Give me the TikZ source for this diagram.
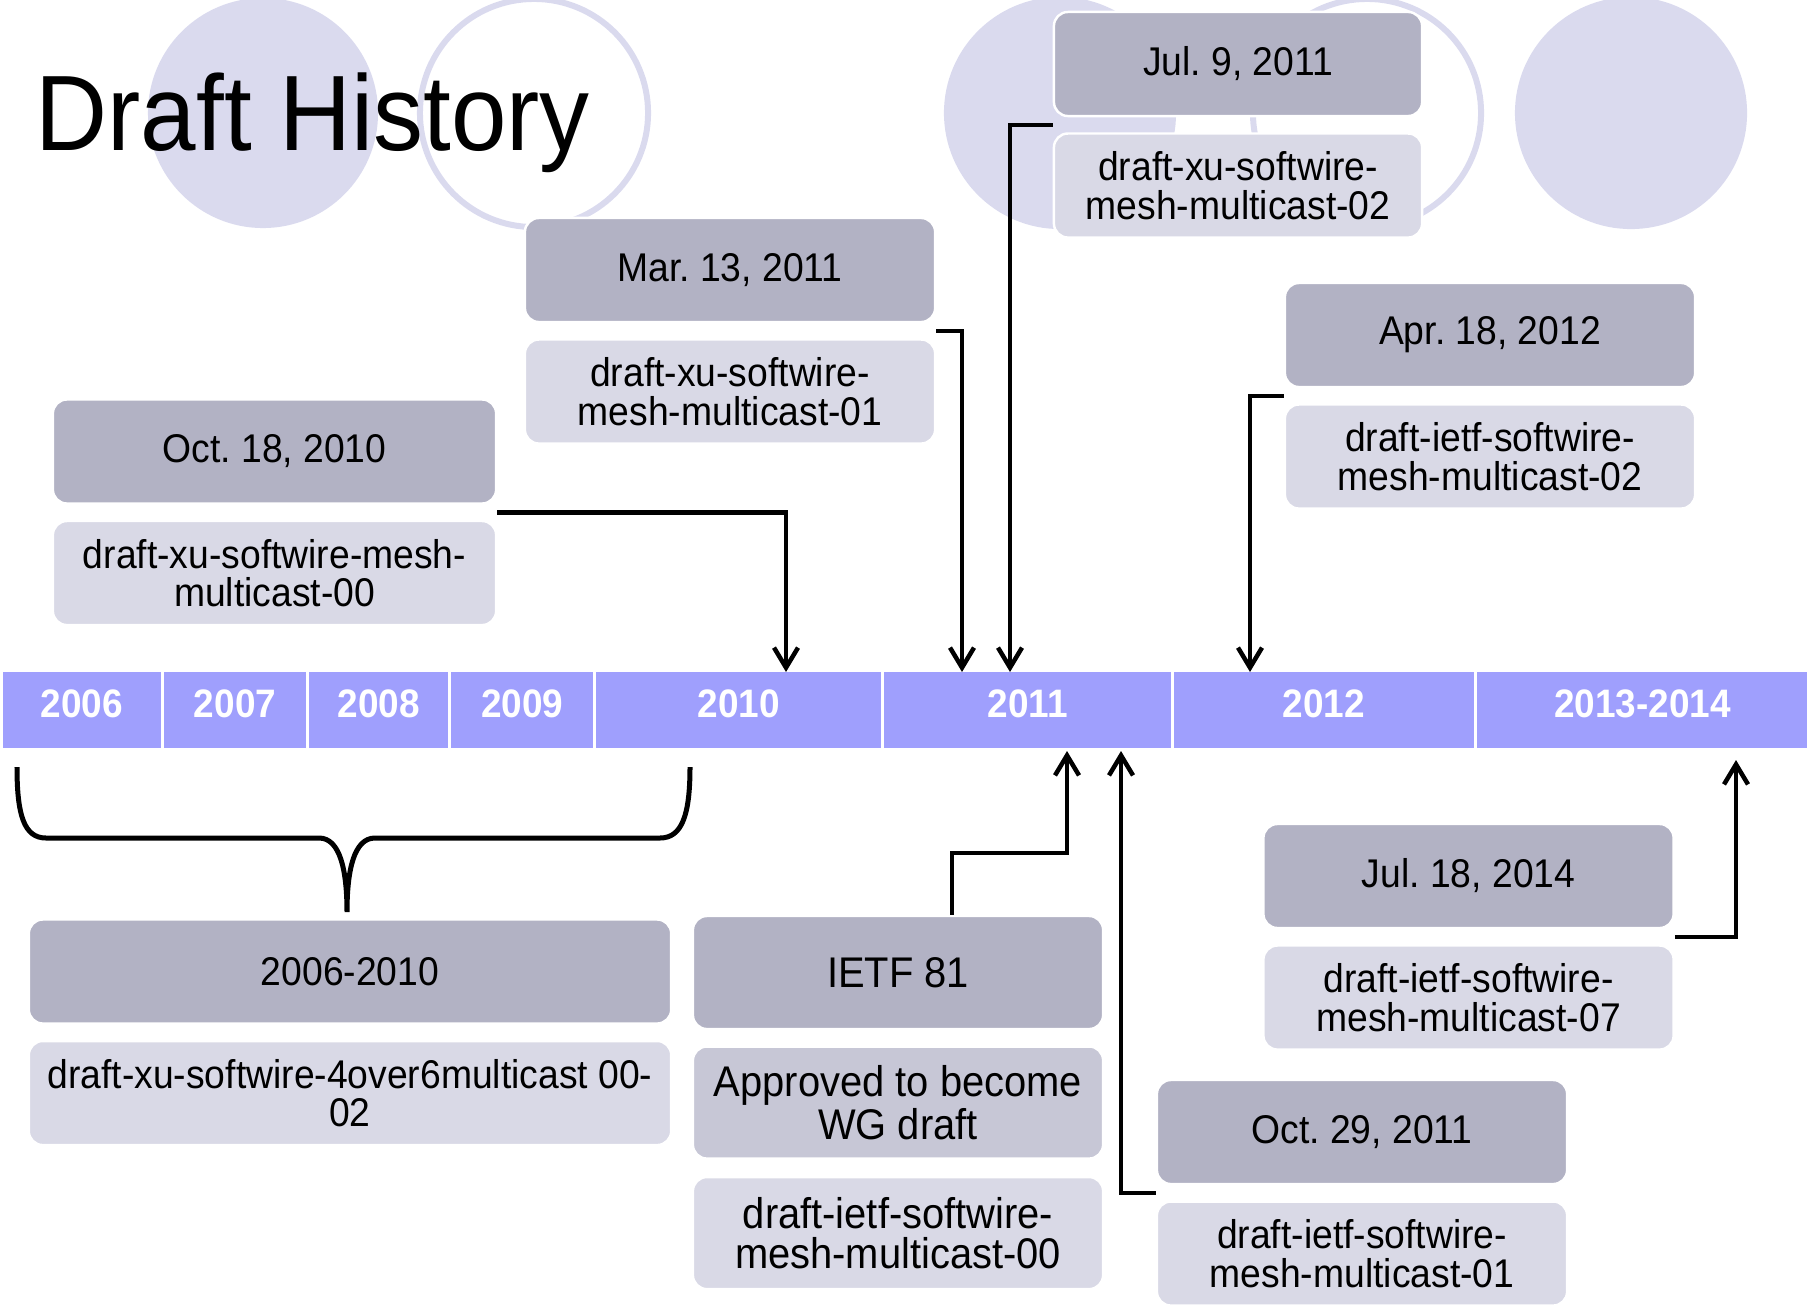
\documentclass[tikz,border=0pt]{standalone}
\usepackage{fontspec}
\setmainfont{Liberation Sans}[FakeStretch=0.93]
\usetikzlibrary{arrows.meta,positioning,calc}
\definecolor{boxdark}{HTML}{B2B2C4}
\definecolor{boxlight}{HTML}{D9D9E6}
\definecolor{boxmid}{HTML}{C7C7D6}
\definecolor{barblue}{HTML}{9F9FFD}
\definecolor{circlefill}{HTML}{DADAEE}
\newcommand{\boxfont}{\fontsize{11.4}{10.9}\selectfont}
\newcommand{\ietffont}{\fontsize{12.2}{11.2}\selectfont}
\newcommand{\yearfont}{\fontsize{11.3}{11.3}\selectfont\bfseries}
\newcommand{\titlefont}{\fontsize{30.5}{30.5}\selectfont}
\frenchspacing
\begin{document}
\begin{tikzpicture}[
			x=0.01cm,y=-0.01cm,
			datebox/.style={draw=white,line width=0.7pt,fill=boxdark,rounded corners=0.14cm,minimum width=4.1cm,minimum height=1.04cm,inner sep=2pt,align=center,font=\boxfont},
			draftbox/.style={datebox,fill=boxlight},
			yearbox/.style={fill=barblue,text=white,minimum height=0.76cm,inner sep=0pt,outer sep=0pt,text depth=0.12cm,font=\yearfont},
			ring/.style={draw=circlefill,line width=0.06cm},
			arr/.style={-{Straight Barb[length=0.2cm,width=0.24cm]},line width=0.045cm,black},
			brace/.style={line width=0.05cm,black}
			]
			\useasboundingbox (0,0) rectangle (1807,1306);
			\fill[circlefill] (263,113) circle (1.15cm);
			\draw[ring] (534,113) circle (1.14cm);
			\fill[circlefill] (1060,113) circle (1.16cm);
			\draw[ring] (1367,113) circle (1.14cm);
			\fill[circlefill] (1631,113) circle (1.16cm);
			\node[anchor=base west,font=\titlefont,inner sep=0pt] (title) at (35,150) {Draft History};
			\node[yearbox,minimum width=1.58cm] (y2006) at (82,710) {2006};
			\node[yearbox,minimum width=1.42cm] (y2007) [right=0.03cm of y2006] {2007};
			\node[yearbox,minimum width=1.39cm] (y2008) [right=0.03cm of y2007] {2008};
			\node[yearbox,minimum width=1.42cm] (y2009) [right=0.03cm of y2008] {2009};
			\node[yearbox,minimum width=2.85cm] (y2010) [right=0.03cm of y2009] {2010};
			\node[yearbox,minimum width=2.86cm] (y2011) [right=0.03cm of y2010] {2011};
			\node[yearbox,minimum width=3.00cm] (y2012) [right=0.03cm of y2011] {2012};
			\node[yearbox,minimum width=3.31cm] (y2013) [right=0.03cm of y2012] {2013-2014};
			\node[datebox,minimum width=4.43cm] (d1) at (274.5,451.5) {Oct. 18, 2010};
			\node[draftbox,minimum width=4.43cm] (r1) [below=0.15cm of d1] {draft-xu-softwire-mesh-\\multicast-00};
			\node[datebox] (d2) at (730,270) {Mar. 13, 2011};
			\node[draftbox] (r2) [below=0.15cm of d2] {draft-xu-softwire-\\mesh-multicast-01};
			\node[datebox,minimum width=3.68cm] (d3) at (1238,64) {Jul. 9, 2011};
			\node[draftbox,minimum width=3.68cm] (r3) [below=0.15cm of d3] {draft-xu-softwire-\\mesh-multicast-02};
			\node[datebox] (d4) at (1490,335) {Apr. 18, 2012};
			\node[draftbox] (r4) [below=0.15cm of d4] {draft-ietf-softwire-\\mesh-multicast-02};
			\node[datebox,minimum width=6.42cm] (d5) at (350,971.5) {2006-2010};
			\node[draftbox,minimum width=6.42cm] (r5) [below=0.15cm of d5] {draft-xu-softwire-4over6multicast 00-\\02};
			\node[datebox,minimum height=1.13cm,font=\ietffont] (d6) at (898,972.5) {IETF 81};
			\node[draftbox,fill=boxmid,minimum height=1.12cm,font=\ietffont] (a6) [below=0.15cm of d6] {Approved to become\\WG draft};
			\node[draftbox,minimum height=1.12cm,font=\ietffont] (r6) [below=0.16cm of a6] {draft-ietf-softwire-\\mesh-multicast-00};
			\node[datebox] (d7) at (1468.5,876) {Jul. 18, 2014};
			\node[draftbox] (r7) [below=0.15cm of d7] {draft-ietf-softwire-\\mesh-multicast-07};
			\node[datebox] (d8) at (1362,1132) {Oct. 29, 2011};
			\node[draftbox] (r8) [below=0.15cm of d8] {draft-ietf-softwire-\\mesh-multicast-01};
			\coordinate (p1) at (786,672);
			\coordinate (p2) at (962,672);
			\coordinate (p3) at (1010,672);
			\coordinate (p4) at (1250,672);
			\coordinate (p5) at (1067,751);
			\coordinate (p6) at (1121,751);
			\coordinate (p7) at (1736,760);
			\draw[arr] ($(d1.south east)!.5!(r1.north east)$) -| (p1);
			\draw[arr] ($(d2.south east)!.5!(r2.north east)$) -| (p2);
			\draw[arr] ($(d3.south west)!.5!(r3.north west)$) -| (p3);
			\draw[arr] ($(d4.south west)!.5!(r4.north west)$) -| (p4);
			\draw[arr] ([xshift=0.54cm]d6.north) -- ++(0,-62) -| (p5);
			\draw[arr] ($(d8.south west)!.5!(r8.north west)$) -| (p6);
			\draw[arr] ($(d7.south east)!.5!(r7.north east)$) -| (p7);
			\draw[brace] (17,767) .. controls (17,815) and (24,838) .. (46,838) -- (319,838) .. controls (340,838) and (347,870) .. (347,912) .. controls (347,870) and (354,838) .. (375,838) -- (660,838) .. controls (682,838) and (690,815) .. (690,767);
		\end{tikzpicture}
\end{document}
